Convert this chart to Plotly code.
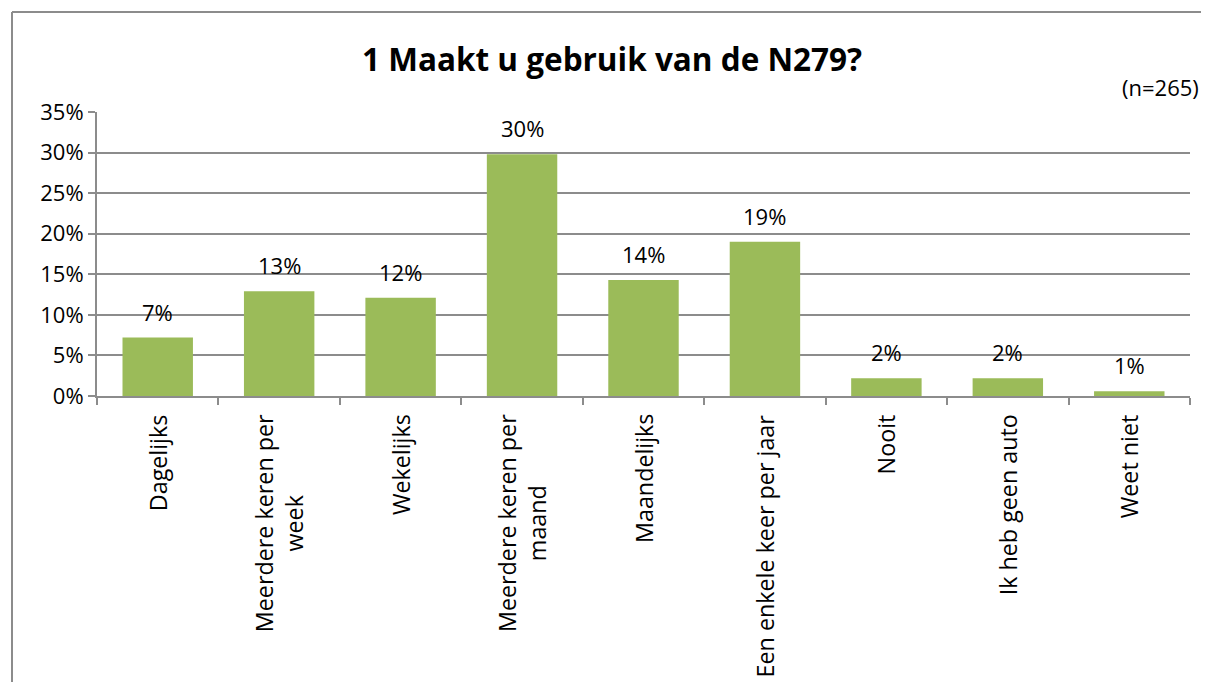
import plotly.graph_objects as go

categories = ["Dagelijks", "Meerdere keren per<br>week", "Wekelijks",
              "Meerdere keren per<br>maand", "Maandelijks",
              "Een enkele keer per jaar", "Nooit", "Ik heb geen auto", "Weet niet"]
values = [7.2, 12.9, 12.1, 29.8, 14.3, 19.0, 2.2, 2.2, 0.6]
y_ticks = [0, 5, 10, 15, 20, 25, 30, 35]
title_text = "1 Maakt u gebruik van de N279?"
n_text = "(n=265)"

FONT = "Open Sans"
GRAY = "#8c8c8c"
OFF = 8  # page body margin
W, H = 1209 - 2 * OFF, 682 - OFF
PX0, PX1, PY0, PY1 = 97, 1190, 112, 396  # plot area in page pixels
L, R, T, B = PX0 - OFF, W - (PX1 - OFF), PY0 - OFF, H - (PY1 - OFF)
PW, PH = PX1 - PX0, PY1 - PY0


def px(x):
    return (x - PX0) / PW


def py(y):
    return (PY1 - y) / PH


fig = go.Figure()
fig.add_trace(go.Bar(x=list(range(len(categories))), y=values, marker_color="#9BBB59",
                     marker_line_width=0, hoverinfo="skip"))

ann = []
for i, (c, v) in enumerate(zip(categories, values)):
    ann.append(dict(x=i, y=v, xref="x", yref="y", text=f"{v:.0f}%", showarrow=False,
                    yanchor="middle", yshift=26, font=dict(family=FONT, size=22, color="black")))
    ann.append(dict(x=i, y=py(412), xref="x", yref="paper", text=c,
                    textangle=-90, showarrow=False, xanchor="center", yanchor="top",
                    align="center", font=dict(family=FONT, size=23.3, color="black")))
ann.append(dict(x=px(612), y=py(58), xref="paper", yref="paper",
                text=f"<b>{title_text}</b>", showarrow=False, xanchor="center", yanchor="middle",
                font=dict(family=FONT, size=31.5, color="black")))
ann.append(dict(x=px(1201), y=py(87), xref="paper", yref="paper",
                text=n_text, showarrow=False, xanchor="right", yanchor="middle",
                font=dict(family=FONT, size=22, color="black")))

fig.update_layout(
    width=W, height=H, margin=dict(l=L, r=R, t=T, b=B, pad=0),
    paper_bgcolor="white", plot_bgcolor="white", showlegend=False, bargap=0.42,
    annotations=ann,
    shapes=[
        dict(type="line", xref="paper", yref="paper", x0=px(12), x1=px(1209),
             y0=py(12), y1=py(12), line=dict(color=GRAY, width=2)),
        dict(type="line", xref="paper", yref="paper", x0=px(12), x1=px(12),
             y0=py(12), y1=py(682), line=dict(color=GRAY, width=2)),
    ],
    xaxis=dict(type="linear", range=[-0.5, len(categories) - 0.5], tickmode="array",
               tickvals=[i - 0.5 for i in range(len(categories) + 1)], showticklabels=False,
               ticks="outside", ticklen=7, tickcolor=GRAY, tickwidth=2, showline=True,
               linecolor=GRAY, linewidth=2, showgrid=False, zeroline=False, fixedrange=True),
    yaxis=dict(range=[0, 35], tickmode="array", tickvals=y_ticks,
               ticktext=[f"{t}%" for t in y_ticks], ticks="outside", ticklen=7,
               tickcolor=GRAY, tickwidth=2, showline=True, linecolor=GRAY, linewidth=2,
               showgrid=True, gridcolor=GRAY, gridwidth=2, zeroline=False,
               tickfont=dict(family=FONT, size=22, color="black"), fixedrange=True),
)
fig.write_html("out.html", config={"displayModeBar": False})
